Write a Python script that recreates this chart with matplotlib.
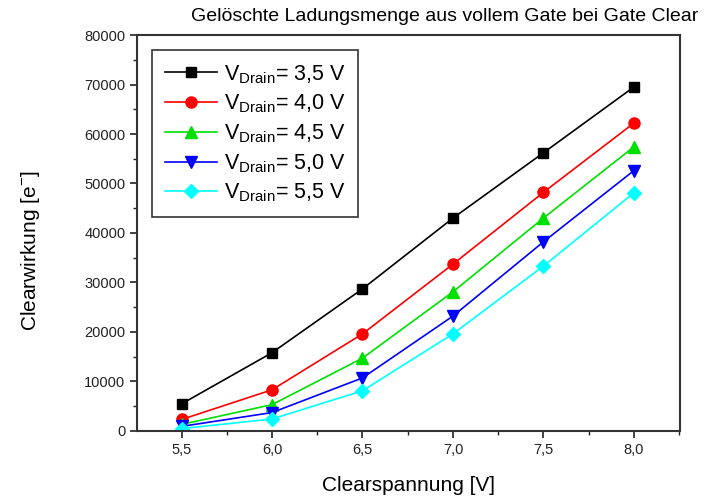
import matplotlib
matplotlib.use('Agg')
import matplotlib.pyplot as plt
from matplotlib.ticker import MultipleLocator

plt.rcParams['font.family'] = ['Liberation Sans', 'DejaVu Sans']
plt.rcParams['mathtext.fontset'] = 'custom'
plt.rcParams['mathtext.rm'] = 'Liberation Sans'

clear_voltage = [5.5, 6.0, 6.5, 7.0, 7.5, 8.0]
x_tick_labels = ['5,5', '6,0', '6,5', '7,0', '7,5', '8,0']
drain_labels = ['3,5', '4,0', '4,5', '5,0', '5,5']

v_drain_35 = [5450, 15800, 28700, 43000, 56200, 69500]
v_drain_40 = [2300, 8300, 19600, 33700, 48200, 62200]
v_drain_45 = [1300, 5300, 14700, 28100, 43000, 57400]
v_drain_50 = [900, 3700, 10700, 23200, 38200, 52600]
v_drain_55 = [450, 2400, 8100, 19600, 33300, 48100]

series = [v_drain_35, v_drain_40, v_drain_45, v_drain_50, v_drain_55]
colors = ['black', '#ff0000', '#00e000', '#0000ff', '#00ffff']
markers = ['s', 'o', '^', 'v', 'D']
sizes = [7, 8, 8, 8, 7]


def main():
    fig = plt.figure(figsize=(7.15, 5.01), dpi=100)
    ax = fig.add_axes([0.192, 0.140, 0.759, 0.790])

    for vals, c, m, ms, lab in zip(series, colors, markers, sizes, drain_labels):
        ax.plot(clear_voltage, vals, color=c, marker=m, markersize=ms, lw=1.2,
                label=r'V$_{\mathregular{Drain}}$= ' + lab + ' V')

    ax.set_xlim(5.255, 8.255)
    ax.set_ylim(0, 80000)
    ax.set_xticks(clear_voltage)
    ax.set_xticklabels(x_tick_labels)
    ax.xaxis.set_minor_locator(MultipleLocator(0.25))
    ax.yaxis.set_major_locator(MultipleLocator(10000))
    ax.yaxis.set_minor_locator(MultipleLocator(5000))
    ax.tick_params(which='both', direction='out', labelsize=10.5, colors='#222222')
    ax.tick_params(which='major', length=5, width=1.2)
    ax.tick_params(which='minor', length=3, width=1.0)
    for s in ax.spines.values():
        s.set_linewidth(1.5)
        s.set_color('#333333')

    ax.set_xlabel('Clearspannung [V]', fontsize=15, labelpad=14)
    ax.set_ylabel(r'Clearwirkung [e$^{-}$]', fontsize=15)
    ax.yaxis.set_label_coords(-0.175, 0.455)
    fig.text(0.622, 0.968, 'Gelöschte Ladungsmenge aus vollem Gate bei Gate Clear',
             ha='center', va='center', fontsize=14)

    leg = ax.legend(loc='upper left', bbox_to_anchor=(0.028, 0.962), fontsize=15.5,
                    frameon=True, fancybox=False, edgecolor='black',
                    handlelength=2.4, borderpad=0.6, labelspacing=0.33,
                    handletextpad=0.3, borderaxespad=0)
    leg.get_frame().set_linewidth(1.2)

    fig.savefig('out.png', dpi=100)


if __name__ == "__main__":
    main()
